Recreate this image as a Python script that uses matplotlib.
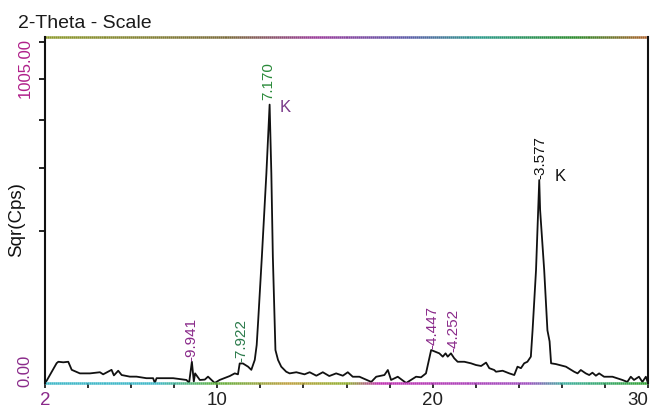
import numpy as np
import matplotlib
matplotlib.use("Agg")
import matplotlib.pyplot as plt
import matplotlib.colors as mcolors
from matplotlib.collections import LineCollection

plt.rcParams['font.family'] = ['Liberation Sans', 'DejaVu Sans']

# Diffractogram trace (2-theta in degrees, intensity in cps)
two_theta = [2.00, 2.08, 2.54, 2.62, 2.85, 3.08, 3.24, 3.62, 4.09, 4.55, 4.70, 5.09, 5.20,
             5.40, 5.56, 5.94, 6.25, 6.71, 7.02, 7.10, 7.18, 7.95, 8.57, 8.69, 8.82, 8.91,
             8.97, 9.19, 9.42, 9.57, 9.88, 10.11, 10.58, 10.81, 10.96, 11.04, 11.19, 11.43,
             11.58, 11.74, 11.83, 11.90, 12.07, 12.28, 12.43, 12.51, 12.58, 12.70, 12.82,
             12.97, 13.20, 13.36, 13.67, 14.05, 14.29, 14.60, 14.90, 15.20, 15.52, 15.83,
             16.06, 16.29, 16.60, 17.15, 17.38, 17.76, 17.92, 18.07, 18.38, 18.77, 19.23,
             19.46, 19.69, 19.93, 20.31, 20.47, 20.60, 20.70, 20.85, 21.00, 21.16, 21.47,
             21.78, 22.01, 22.25, 22.48, 22.63, 22.86, 22.94, 23.25, 23.56, 23.79, 23.94,
             24.10, 24.25, 24.40, 24.56, 24.64, 24.80, 24.95, 24.99, 25.18, 25.33, 25.43,
             25.50, 25.72, 26.19, 26.57, 26.73, 26.88, 27.11, 27.27, 27.42, 27.58, 27.73,
             27.96, 28.35, 28.81, 29.04, 29.20, 29.35, 29.58, 29.74, 29.90, 30.00]
cps = [0.0, 0.05, 3.4, 3.9, 3.7, 3.9, 1.5, 0.8, 0.8, 1.0, 0.65, 1.5, 0.5,
       1.3, 0.55, 0.35, 0.35, 0.2, 0.2, 0.0, 0.2, 0.2, 0.08, 0.0, 3.9, 0.02,
       0.8, 0.08, 0.1, 0.35, 0.0, 0.08, 0.42, 0.8, 0.65, 3.3, 3.3, 2.3,
       1.5, 4.6, 12.5, 34, 138, 380, 670, 380, 138, 9.4, 4.6,
       2.3, 1.1, 0.8, 1.0, 0.65, 1.0, 0.46, 1.0, 0.42, 0.8, 0.46,
       1.0, 0.34, 0.34, 0.01, 0.34, 0.55, 1.46, 0.08, 0.34, 0.0, 0.34,
       0.28, 0.8, 9.4, 7.6, 6.0, 7.6, 6.0, 7.6, 5.3, 3.9, 3.9,
       3.35, 2.8, 2.5, 3.6, 1.9, 1.46, 1.1, 1.3, 0.8, 0.55, 2.3,
       1.9, 3.35, 3.9, 6.0, 24, 110, 356, 259, 110, 24, 15,
       3.35, 3.1, 2.3, 1.1, 0.8, 1.46, 0.8, 0.55, 0.92, 0.46, 0.8,
       0.34, 0.34, 0.08, 0.01, 0.34, 0.08, 0.34, 0.01, 0.34, 0.0]

# d-spacing labels: (text, 2-theta, cps at label foot, colour)
peak_text = ["-9.941", "-7.922", "7.170", "-4.447", "-4.252", "-3.577"]
peak_pos = [8.82, 11.10, 12.35, 20.01, 20.94, 24.98]
peak_cps = [3.9, 3.4, 690, 9.4, 7.8, 356]
peak_col = ['#8a2a8a', '#2a7a4a', '#2a8a3a', '#8a2a8a', '#8a2a8a', '#111111']
k_pos = [13.14, 25.91]
k_cps = [658, 370]
k_col = ['#7a3a8a', '#111111']

x_ticks = np.arange(2, 31, 2)
x_labels = {2: '2', 10: '10', 20: '20', 30: '30'}
y_ticks = [200, 400, 600, 800, 1005]


def fwd(v):
    return np.sqrt(np.maximum(v, 0))


def inv(v):
    return np.asarray(v) ** 2


fig = plt.figure(figsize=(6.55, 4.13), dpi=100)
ax = fig.add_axes([45 / 655, 1 - 383 / 413, 603 / 655, 346 / 413])
ax.set_yscale('function', functions=(fwd, inv))
ax.plot(two_theta, cps, color='#111111', lw=1.3)
ax.set_xlim(2, 30)
ax.set_ylim(0, 1035)

ax.set_xticks(x_ticks)
ax.set_xticklabels([x_labels.get(int(t), '') for t in x_ticks])
ax.set_yticks(y_ticks)
ax.set_yticklabels([])
ax.minorticks_off()
ax.tick_params(axis='x', direction='out', length=3.5, width=1.3, pad=3,
               labelsize=13.5, colors='#222222')
ax.tick_params(axis='y', direction='out', length=4, width=1.3, colors='#111111')
xtl = ax.get_xticklabels()
xtl[0].set_color('#8a2a8a')
xtl[-1].set_horizontalalignment('right')

# spines: left/right plain, top/bottom with scanner colour fringe
for side in ['left', 'right']:
    ax.spines[side].set_linewidth(1.5)
    ax.spines[side].set_color('#111111')
for side in ['top', 'bottom']:
    ax.spines[side].set_visible(False)


def fringe(y, anchors):
    xs = np.linspace(0, 1, 300)
    pts = np.array([xs, np.full_like(xs, y)]).T.reshape(-1, 1, 2)
    segs = np.concatenate([pts[:-1], pts[1:]], axis=1)
    cmap = mcolors.LinearSegmentedColormap.from_list('f', anchors)
    lc = LineCollection(segs, colors=cmap(xs[:-1]), linewidths=1.8,
                        transform=ax.transAxes, clip_on=False)
    ax.add_collection(lc)


fringe(1.0, [(0.0, '#8c9a2a'), (0.3, '#7a6a3a'), (0.45, '#9a3a9a'), (0.6, '#5a5aa8'),
             (0.72, '#2a9a8a'), (0.88, '#2a8a2a'), (1.0, '#b0602a')])
fringe(0.0, [(0.0, '#40b8c8'), (0.18, '#40b8c8'), (0.28, '#60b040'), (0.4, '#c0a040'),
             (0.5, '#90b030'), (0.55, '#c030b0'), (0.8, '#a050c0'), (0.86, '#40b0a0'),
             (1.0, '#30a030')])

# y end labels
ax.annotate('1005.00', xy=(-0.033, 1005), xycoords=('axes fraction', 'data'),
            xytext=(0, 3), textcoords='offset points', rotation=90,
            ha='center', va='top', fontsize=12, color='#b0208a')
ax.annotate('0.00', xy=(-0.033, 0), xycoords=('axes fraction', 'data'),
            xytext=(0, -3), textcoords='offset points', rotation=90,
            ha='center', va='bottom', fontsize=12, color='#8a2a8a')

for txt, px, py, c in zip(peak_text, peak_pos, peak_cps, peak_col):
    ax.annotate(txt, xy=(px, py), xytext=(0, 0.5), textcoords='offset points',
                rotation=90, ha='center', va='bottom', fontsize=11, color=c)
for px, py, c in zip(k_pos, k_cps, k_col):
    ax.text(px, py, 'K', ha='center', va='center', fontsize=12, color=c)

fig.text(18 / 655, 1 - 28 / 413, '2-Theta - Scale', fontsize=14, va='baseline',
         ha='left', color='#1a1a1a')
fig.text(17 / 655, 1 - 220 / 413, 'Sqr(Cps)', fontsize=13.5, rotation=90,
         ha='center', va='center', color='#111111')

fig.savefig('out.png', dpi=100)
